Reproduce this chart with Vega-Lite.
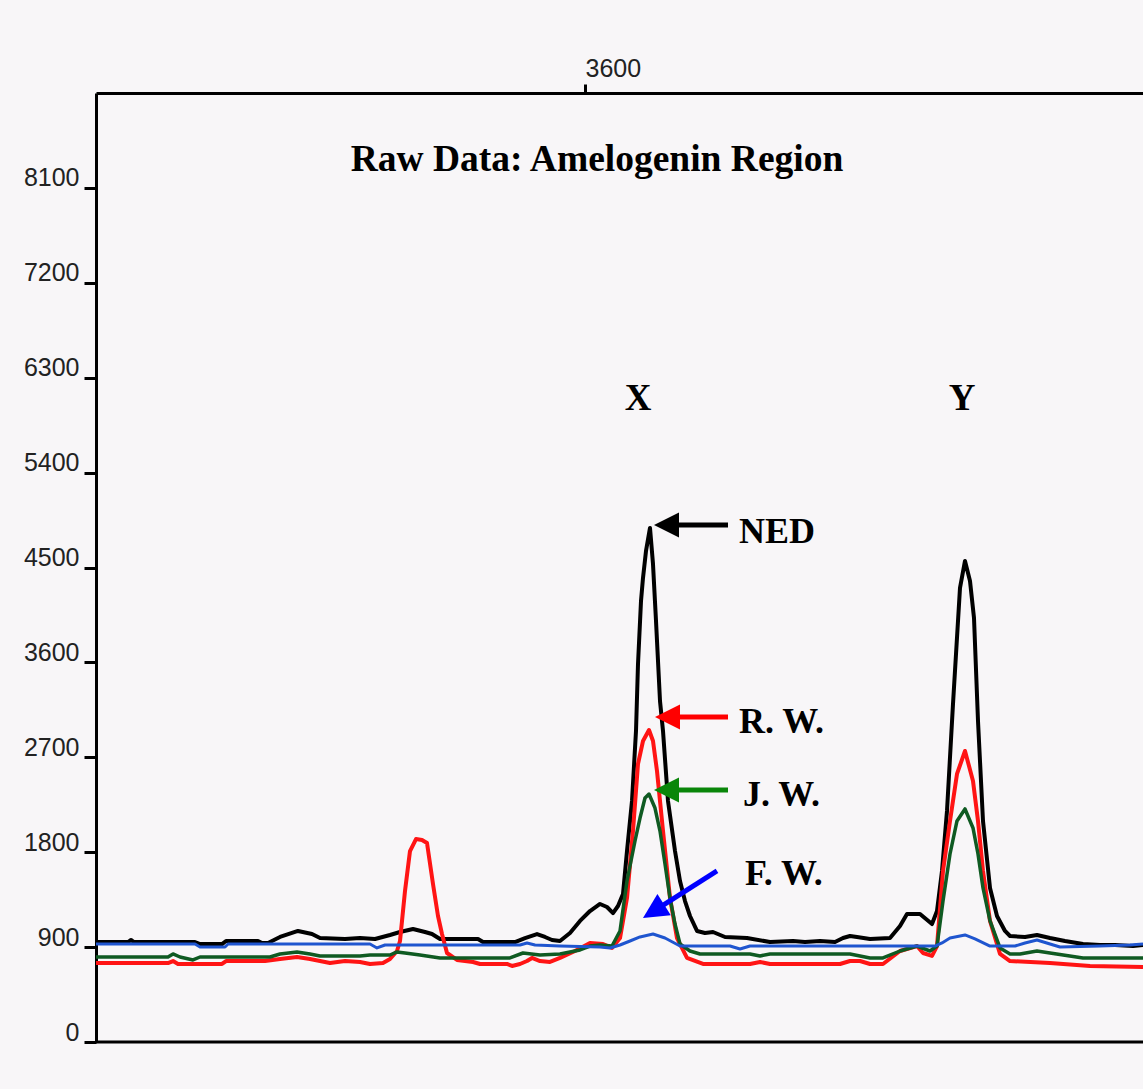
{
  "$schema": "https://vega.github.io/schema/vega-lite/v6.json",
  "width": 1047,
  "height": 949,
  "autosize": {"type": "none"},
  "padding": {"left": 96, "top": 93, "right": 0, "bottom": 47},
  "background": "#f8f6f8",
  "datasets": {
    "traces": [
      {"s":"NED","x":3110,"y":948},{"s":"NED","x":3143,"y":948},{"s":"NED","x":3146,"y":967},{"s":"NED","x":3149,"y":948},{"s":"NED","x":3210,"y":948},{"s":"NED","x":3215,"y":929},{"s":"NED","x":3237,"y":929},{"s":"NED","x":3241,"y":958},{"s":"NED","x":3273,"y":958},{"s":"NED","x":3277,"y":939},{"s":"NED","x":3283,"y":939},{"s":"NED","x":3295,"y":996},{"s":"NED","x":3313,"y":1053},{"s":"NED","x":3327,"y":1024},{"s":"NED","x":3335,"y":986},{"s":"NED","x":3360,"y":977},{"s":"NED","x":3375,"y":986},{"s":"NED","x":3390,"y":977},{"s":"NED","x":3405,"y":1015},{"s":"NED","x":3415,"y":1043},{"s":"NED","x":3428,"y":1072},{"s":"NED","x":3440,"y":1043},{"s":"NED","x":3447,"y":1024},{"s":"NED","x":3455,"y":977},{"s":"NED","x":3493,"y":977},{"s":"NED","x":3498,"y":948},{"s":"NED","x":3530,"y":948},{"s":"NED","x":3540,"y":986},{"s":"NED","x":3552,"y":1024},{"s":"NED","x":3560,"y":996},{"s":"NED","x":3567,"y":967},{"s":"NED","x":3575,"y":958},{"s":"NED","x":3585,"y":1034},{"s":"NED","x":3595,"y":1148},{"s":"NED","x":3605,"y":1242},{"s":"NED","x":3615,"y":1309},{"s":"NED","x":3622,"y":1280},{"s":"NED","x":3628,"y":1223},{"s":"NED","x":3633,"y":1290},{"s":"NED","x":3638,"y":1404},{"s":"NED","x":3642,"y":1811},{"s":"NED","x":3647,"y":2286},{"s":"NED","x":3651,"y":2950},{"s":"NED","x":3653,"y":3585},{"s":"NED","x":3656,"y":4182},{"s":"NED","x":3658,"y":4401},{"s":"NED","x":3661,"y":4657},{"s":"NED","x":3665,"y":4875},{"s":"NED","x":3668,"y":4533},{"s":"NED","x":3671,"y":3993},{"s":"NED","x":3675,"y":3234},{"s":"NED","x":3678,"y":2950},{"s":"NED","x":3683,"y":2286},{"s":"NED","x":3690,"y":1811},{"s":"NED","x":3695,"y":1527},{"s":"NED","x":3700,"y":1337},{"s":"NED","x":3705,"y":1195},{"s":"NED","x":3712,"y":1053},{"s":"NED","x":3720,"y":1034},{"s":"NED","x":3728,"y":1043},{"s":"NED","x":3740,"y":996},{"s":"NED","x":3762,"y":986},{"s":"NED","x":3785,"y":948},{"s":"NED","x":3808,"y":958},{"s":"NED","x":3820,"y":948},{"s":"NED","x":3835,"y":958},{"s":"NED","x":3850,"y":948},{"s":"NED","x":3858,"y":986},{"s":"NED","x":3865,"y":1005},{"s":"NED","x":3872,"y":996},{"s":"NED","x":3885,"y":977},{"s":"NED","x":3905,"y":986},{"s":"NED","x":3915,"y":1100},{"s":"NED","x":3922,"y":1214},{"s":"NED","x":3935,"y":1214},{"s":"NED","x":3947,"y":1119},{"s":"NED","x":3952,"y":1242},{"s":"NED","x":3957,"y":1622},{"s":"NED","x":3962,"y":2191},{"s":"NED","x":3968,"y":3206},{"s":"NED","x":3975,"y":4306},{"s":"NED","x":3980,"y":4562},{"s":"NED","x":3985,"y":4372},{"s":"NED","x":3989,"y":4021},{"s":"NED","x":3993,"y":3044},{"s":"NED","x":3998,"y":2096},{"s":"NED","x":4005,"y":1461},{"s":"NED","x":4012,"y":1195},{"s":"NED","x":4020,"y":1053},{"s":"NED","x":4025,"y":1005},{"s":"NED","x":4040,"y":996},{"s":"NED","x":4052,"y":1015},{"s":"NED","x":4065,"y":986},{"s":"NED","x":4080,"y":958},{"s":"NED","x":4098,"y":929},{"s":"NED","x":4115,"y":920},{"s":"NED","x":4130,"y":920},{"s":"NED","x":4148,"y":910},{"s":"NED","x":4158,"y":920},

      {"s":"R. W.","x":3110,"y":749},{"s":"R. W.","x":3183,"y":749},{"s":"R. W.","x":3188,"y":768},{"s":"R. W.","x":3193,"y":740},{"s":"R. W.","x":3237,"y":740},{"s":"R. W.","x":3241,"y":768},{"s":"R. W.","x":3280,"y":768},{"s":"R. W.","x":3295,"y":787},{"s":"R. W.","x":3312,"y":806},{"s":"R. W.","x":3325,"y":787},{"s":"R. W.","x":3335,"y":768},{"s":"R. W.","x":3345,"y":749},{"s":"R. W.","x":3360,"y":768},{"s":"R. W.","x":3375,"y":759},{"s":"R. W.","x":3385,"y":740},{"s":"R. W.","x":3398,"y":749},{"s":"R. W.","x":3405,"y":787},{"s":"R. W.","x":3412,"y":863},{"s":"R. W.","x":3415,"y":958},{"s":"R. W.","x":3420,"y":1432},{"s":"R. W.","x":3425,"y":1811},{"s":"R. W.","x":3431,"y":1925},{"s":"R. W.","x":3437,"y":1916},{"s":"R. W.","x":3442,"y":1887},{"s":"R. W.","x":3448,"y":1498},{"s":"R. W.","x":3453,"y":1195},{"s":"R. W.","x":3457,"y":1024},{"s":"R. W.","x":3462,"y":844},{"s":"R. W.","x":3472,"y":778},{"s":"R. W.","x":3488,"y":759},{"s":"R. W.","x":3495,"y":740},{"s":"R. W.","x":3522,"y":740},{"s":"R. W.","x":3527,"y":721},{"s":"R. W.","x":3535,"y":740},{"s":"R. W.","x":3542,"y":768},{"s":"R. W.","x":3547,"y":797},{"s":"R. W.","x":3555,"y":768},{"s":"R. W.","x":3565,"y":759},{"s":"R. W.","x":3575,"y":797},{"s":"R. W.","x":3590,"y":863},{"s":"R. W.","x":3605,"y":939},{"s":"R. W.","x":3618,"y":929},{"s":"R. W.","x":3627,"y":892},{"s":"R. W.","x":3635,"y":986},{"s":"R. W.","x":3642,"y":1366},{"s":"R. W.","x":3648,"y":2001},{"s":"R. W.","x":3653,"y":2637},{"s":"R. W.","x":3658,"y":2855},{"s":"R. W.","x":3664,"y":2959},{"s":"R. W.","x":3668,"y":2855},{"s":"R. W.","x":3672,"y":2570},{"s":"R. W.","x":3678,"y":2001},{"s":"R. W.","x":3685,"y":1366},{"s":"R. W.","x":3692,"y":986},{"s":"R. W.","x":3702,"y":797},{"s":"R. W.","x":3718,"y":740},{"s":"R. W.","x":3765,"y":740},{"s":"R. W.","x":3775,"y":759},{"s":"R. W.","x":3785,"y":740},{"s":"R. W.","x":3855,"y":740},{"s":"R. W.","x":3865,"y":768},{"s":"R. W.","x":3875,"y":768},{"s":"R. W.","x":3885,"y":740},{"s":"R. W.","x":3898,"y":740},{"s":"R. W.","x":3915,"y":863},{"s":"R. W.","x":3932,"y":910},{"s":"R. W.","x":3938,"y":844},{"s":"R. W.","x":3947,"y":816},{"s":"R. W.","x":3952,"y":910},{"s":"R. W.","x":3958,"y":1622},{"s":"R. W.","x":3965,"y":2096},{"s":"R. W.","x":3972,"y":2542},{"s":"R. W.","x":3980,"y":2760},{"s":"R. W.","x":3988,"y":2475},{"s":"R. W.","x":3993,"y":2096},{"s":"R. W.","x":3998,"y":1622},{"s":"R. W.","x":4005,"y":1148},{"s":"R. W.","x":4015,"y":835},{"s":"R. W.","x":4025,"y":768},{"s":"R. W.","x":4065,"y":749},{"s":"R. W.","x":4105,"y":721},{"s":"R. W.","x":4158,"y":711},

      {"s":"J. W.","x":3110,"y":806},{"s":"J. W.","x":3183,"y":806},{"s":"J. W.","x":3188,"y":835},{"s":"J. W.","x":3195,"y":806},{"s":"J. W.","x":3208,"y":778},{"s":"J. W.","x":3215,"y":806},{"s":"J. W.","x":3285,"y":806},{"s":"J. W.","x":3295,"y":835},{"s":"J. W.","x":3312,"y":854},{"s":"J. W.","x":3325,"y":835},{"s":"J. W.","x":3335,"y":816},{"s":"J. W.","x":3375,"y":816},{"s":"J. W.","x":3385,"y":825},{"s":"J. W.","x":3405,"y":825},{"s":"J. W.","x":3412,"y":854},{"s":"J. W.","x":3420,"y":844},{"s":"J. W.","x":3435,"y":825},{"s":"J. W.","x":3455,"y":797},{"s":"J. W.","x":3525,"y":797},{"s":"J. W.","x":3538,"y":844},{"s":"J. W.","x":3555,"y":825},{"s":"J. W.","x":3575,"y":835},{"s":"J. W.","x":3585,"y":854},{"s":"J. W.","x":3595,"y":873},{"s":"J. W.","x":3605,"y":910},{"s":"J. W.","x":3615,"y":920},{"s":"J. W.","x":3627,"y":910},{"s":"J. W.","x":3635,"y":1053},{"s":"J. W.","x":3642,"y":1527},{"s":"J. W.","x":3650,"y":1906},{"s":"J. W.","x":3655,"y":2124},{"s":"J. W.","x":3660,"y":2314},{"s":"J. W.","x":3664,"y":2352},{"s":"J. W.","x":3670,"y":2219},{"s":"J. W.","x":3675,"y":2001},{"s":"J. W.","x":3680,"y":1688},{"s":"J. W.","x":3685,"y":1366},{"s":"J. W.","x":3690,"y":1119},{"s":"J. W.","x":3695,"y":929},{"s":"J. W.","x":3705,"y":863},{"s":"J. W.","x":3715,"y":835},{"s":"J. W.","x":3765,"y":835},{"s":"J. W.","x":3775,"y":816},{"s":"J. W.","x":3785,"y":835},{"s":"J. W.","x":3865,"y":835},{"s":"J. W.","x":3885,"y":797},{"s":"J. W.","x":3898,"y":797},{"s":"J. W.","x":3915,"y":863},{"s":"J. W.","x":3932,"y":910},{"s":"J. W.","x":3945,"y":863},{"s":"J. W.","x":3952,"y":910},{"s":"J. W.","x":3958,"y":1337},{"s":"J. W.","x":3965,"y":1783},{"s":"J. W.","x":3972,"y":2096},{"s":"J. W.","x":3980,"y":2210},{"s":"J. W.","x":3988,"y":2030},{"s":"J. W.","x":3993,"y":1783},{"s":"J. W.","x":3998,"y":1461},{"s":"J. W.","x":4005,"y":1148},{"s":"J. W.","x":4015,"y":892},{"s":"J. W.","x":4025,"y":835},{"s":"J. W.","x":4035,"y":835},{"s":"J. W.","x":4052,"y":863},{"s":"J. W.","x":4065,"y":844},{"s":"J. W.","x":4098,"y":797},{"s":"J. W.","x":4158,"y":797},

      {"s":"F. W.","x":3110,"y":929},{"s":"F. W.","x":3210,"y":929},{"s":"F. W.","x":3215,"y":901},{"s":"F. W.","x":3240,"y":901},{"s":"F. W.","x":3243,"y":929},{"s":"F. W.","x":3385,"y":929},{"s":"F. W.","x":3392,"y":892},{"s":"F. W.","x":3400,"y":920},{"s":"F. W.","x":3535,"y":920},{"s":"F. W.","x":3542,"y":939},{"s":"F. W.","x":3550,"y":920},{"s":"F. W.","x":3575,"y":910},{"s":"F. W.","x":3615,"y":901},{"s":"F. W.","x":3625,"y":892},{"s":"F. W.","x":3635,"y":920},{"s":"F. W.","x":3645,"y":958},{"s":"F. W.","x":3655,"y":996},{"s":"F. W.","x":3668,"y":1024},{"s":"F. W.","x":3680,"y":986},{"s":"F. W.","x":3695,"y":910},{"s":"F. W.","x":3745,"y":910},{"s":"F. W.","x":3755,"y":882},{"s":"F. W.","x":3765,"y":910},{"s":"F. W.","x":3865,"y":910},{"s":"F. W.","x":3950,"y":910},{"s":"F. W.","x":3957,"y":939},{"s":"F. W.","x":3965,"y":986},{"s":"F. W.","x":3980,"y":1015},{"s":"F. W.","x":3990,"y":977},{"s":"F. W.","x":4005,"y":910},{"s":"F. W.","x":4030,"y":910},{"s":"F. W.","x":4040,"y":939},{"s":"F. W.","x":4052,"y":967},{"s":"F. W.","x":4065,"y":929},{"s":"F. W.","x":4075,"y":901},{"s":"F. W.","x":4115,"y":910},{"s":"F. W.","x":4145,"y":920},{"s":"F. W.","x":4158,"y":929}
    ],
    "shafts": [
      {"series":"NED","x":3681,"y":4903,"x2":3743,"y2":4903},
      {"series":"R. W.","x":3682,"y":3082,"x2":3743,"y2":3082},
      {"series":"J. W.","x":3681,"y":2390,"x2":3743,"y2":2390},
      {"series":"F. W.","x":3668,"y":1237,"x2":3732,"y2":1622}
    ],
    "tips": [
      {"series":"NED","x":3669,"y":4903},
      {"series":"R. W.","x":3670,"y":3082},
      {"series":"J. W.","x":3669,"y":2390},
      {"series":"F. W.","x":3658,"y":1176}
    ],
    "labels": [
      {"g":"title","t":"Raw Data: Amelogenin Region","x":3612,"y":8261},
      {"g":"peak","t":"X","x":3653,"y":5994},
      {"g":"peak","t":"Y","x":3977,"y":5994},
      {"g":"arrow","t":"NED","x":3754,"y":4733},
      {"g":"arrow","t":"R. W.","x":3754,"y":2931},
      {"g":"arrow","t":"J. W.","x":3758,"y":2238},
      {"g":"arrow","t":"F. W.","x":3760,"y":1489}
    ]
  },
  "layer": [
    {
      "data": {"name": "traces"},
      "transform": [{"filter": "datum.s === 'NED'"}],
      "mark": {"type": "line", "color": "#000000", "strokeWidth": 4, "strokeJoin": "round", "clip": true},
      "encoding": {
        "x": {"field": "x", "type": "quantitative", "title": null,
              "scale": {"domain": [3111, 4158], "nice": false, "zero": false},
              "axis": {"orient": "top", "values": [3600], "format": "d", "grid": false, "domainColor": "#000000", "domainWidth": 3,
                       "tickColor": "#000000", "tickWidth": 3, "tickSize": 9, "labelAlign": "left", "labelBaseline": "alphabetic",
                       "labelFont": "Liberation Sans", "labelFontSize": 25, "labelColor": "#222222", "labelPadding": 8, "labelFlush": false}},
        "y": {"field": "y", "type": "quantitative", "title": null,
              "scale": {"domain": [0, 9000], "nice": false, "zero": true},
              "axis": {"orient": "left", "values": [0, 900, 1800, 2700, 3600, 4500, 5400, 6300, 7200, 8100], "format": "d", "grid": false,
                       "domainColor": "#000000", "domainWidth": 3, "tickColor": "#000000", "tickWidth": 3, "tickSize": 12,
                       "labelFont": "Liberation Sans", "labelFontSize": 25, "labelColor": "#222222", "labelPadding": 5,
                       "labelBaseline": "alphabetic", "labelOffset": -2, "labelOverlap": false, "labelFlush": false}}
      }
    },
    {
      "data": {"name": "traces"},
      "transform": [{"filter": "datum.s === 'R. W.'"}],
      "mark": {"type": "line", "color": "#ff1414", "strokeWidth": 4, "strokeJoin": "round", "clip": true},
      "encoding": {
        "x": {"field": "x", "type": "quantitative", "title": null},
        "y": {"field": "y", "type": "quantitative", "title": null}
      }
    },
    {
      "data": {"name": "traces"},
      "transform": [{"filter": "datum.s === 'J. W.'"}],
      "mark": {"type": "line", "color": "#0f5a22", "strokeWidth": 3.5, "strokeJoin": "round", "clip": true},
      "encoding": {
        "x": {"field": "x", "type": "quantitative", "title": null},
        "y": {"field": "y", "type": "quantitative", "title": null}
      }
    },
    {
      "data": {"name": "traces"},
      "transform": [{"filter": "datum.s === 'F. W.'"}],
      "mark": {"type": "line", "color": "#1f55cf", "strokeWidth": 3, "strokeJoin": "round", "clip": true},
      "encoding": {
        "x": {"field": "x", "type": "quantitative", "title": null},
        "y": {"field": "y", "type": "quantitative", "title": null}
      }
    },
    {
      "data": {"values": [{}]},
      "mark": {"type": "rule", "color": "#000000", "strokeWidth": 3},
      "encoding": {"y": {"datum": 0, "type": "quantitative"}}
    },
    {
      "data": {"name": "shafts"},
      "mark": {"type": "rule", "strokeWidth": 5},
      "encoding": {
        "x": {"field": "x", "type": "quantitative", "title": null},
        "y": {"field": "y", "type": "quantitative", "title": null},
        "x2": {"field": "x2"},
        "y2": {"field": "y2"},
        "color": {"field": "series", "type": "nominal", "legend": null,
                  "scale": {"domain": ["NED", "R. W.", "J. W.", "F. W."], "range": ["#000000", "#ff0000", "#0a860a", "#0000ff"]}}
      }
    },
    {
      "data": {"name": "tips"},
      "transform": [{"filter": "datum.series !== 'F. W.'"}],
      "mark": {"type": "point", "shape": "M0,0L2,-1L2,1Z", "filled": true, "opacity": 1, "size": 625, "strokeWidth": 0},
      "encoding": {
        "x": {"field": "x", "type": "quantitative", "title": null},
        "y": {"field": "y", "type": "quantitative", "title": null},
        "color": {"field": "series", "type": "nominal", "legend": null,
                  "scale": {"domain": ["NED", "R. W.", "J. W.", "F. W."], "range": ["#000000", "#ff0000", "#0a860a", "#0000ff"]}}
      }
    },
    {
      "data": {"name": "tips"},
      "transform": [{"filter": "datum.series === 'F. W.'"}],
      "mark": {"type": "point", "shape": "M0,0L2,-1L2,1Z", "filled": true, "opacity": 1, "size": 625, "strokeWidth": 0, "angle": 327.6},
      "encoding": {
        "x": {"field": "x", "type": "quantitative", "title": null},
        "y": {"field": "y", "type": "quantitative", "title": null},
        "color": {"field": "series", "type": "nominal", "legend": null,
                  "scale": {"domain": ["NED", "R. W.", "J. W.", "F. W."], "range": ["#000000", "#ff0000", "#0a860a", "#0000ff"]}}
      }
    },
    {
      "data": {"name": "labels"},
      "transform": [{"filter": "datum.g === 'title'"}],
      "mark": {"type": "text", "font": "Liberation Serif", "fontWeight": "bold", "fontSize": 37.5, "align": "center", "baseline": "alphabetic", "color": "#000000"},
      "encoding": {
        "x": {"field": "x", "type": "quantitative", "title": null},
        "y": {"field": "y", "type": "quantitative", "title": null},
        "text": {"field": "t"}
      }
    },
    {
      "data": {"name": "labels"},
      "transform": [{"filter": "datum.g === 'peak'"}],
      "mark": {"type": "text", "font": "Liberation Serif", "fontWeight": "bold", "fontSize": 37, "align": "center", "baseline": "alphabetic", "color": "#000000"},
      "encoding": {
        "x": {"field": "x", "type": "quantitative", "title": null},
        "y": {"field": "y", "type": "quantitative", "title": null},
        "text": {"field": "t"}
      }
    },
    {
      "data": {"name": "labels"},
      "transform": [{"filter": "datum.g === 'arrow'"}],
      "mark": {"type": "text", "font": "Liberation Serif", "fontWeight": "bold", "fontSize": 36, "align": "left", "baseline": "alphabetic", "color": "#000000"},
      "encoding": {
        "x": {"field": "x", "type": "quantitative", "title": null},
        "y": {"field": "y", "type": "quantitative", "title": null},
        "text": {"field": "t"}
      }
    }
  ],
  "config": {"view": {"stroke": null}}
}
